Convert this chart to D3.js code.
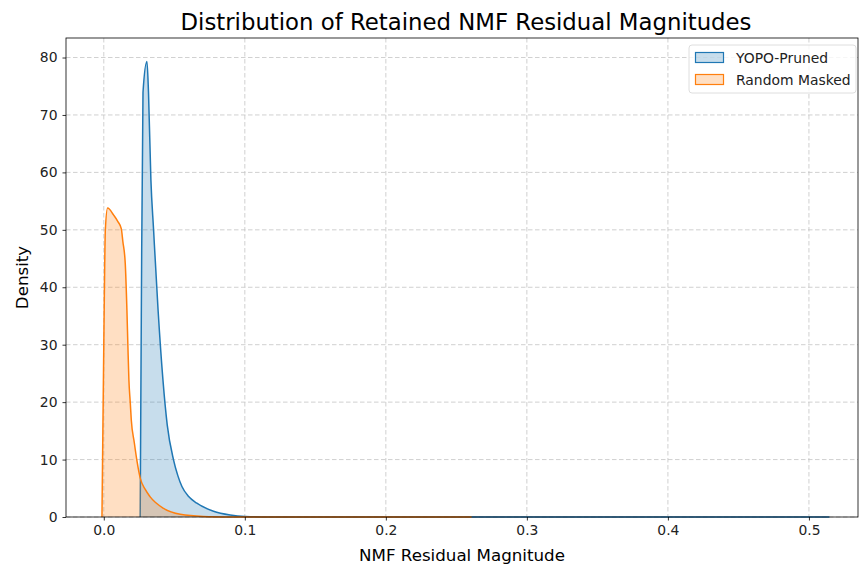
<!DOCTYPE html>
<html>
<head>
<meta charset="utf-8">
<script src="https://cdn.jsdelivr.net/npm/d3@7"></script>
<style>
  body { margin: 0; background: #ffffff; }
  svg { display: block; font-family: "DejaVu Sans", sans-serif; }
</style>
</head>
<body>
<svg id="chart"></svg>
<script>
const width = 859
const height = 567

// Data (KDE curves)
const seriesNames = ["YOPO-Pruned", "Random Masked"]
const seriesColors = ["#1f77b4", "#ff7f0e"]

const yopoX = [0.0258, 0.0266, 0.0278, 0.0306, 0.0317, 0.0334, 0.0353, 0.0385, 0.0419, 0.0450,
               0.0494, 0.0525, 0.0554, 0.0600, 0.0660, 0.0778, 0.0896, 0.1002, 0.1180, 0.1500,
               0.2500, 0.3500, 0.4500, 0.5145]
const yopoY = [0, 35, 73.9, 79.3, 73.9, 58.7, 50, 36, 24, 16,
               10, 7.2, 5.3, 3.6, 2.4, 1.0, 0.35, 0.1, 0.02, 0,
               0, 0, 0, 0]

const randomX = [-0.0013, 0.0000, 0.0011, 0.0027, 0.0069, 0.0101, 0.0124, 0.0135, 0.0152, 0.0164,
                 0.0171, 0.0178, 0.0188, 0.0195, 0.0216, 0.0237, 0.0258, 0.0294, 0.0329, 0.0424,
                 0.0542, 0.0705, 0.0896, 0.1200, 0.1800, 0.2608]
const randomY = [0, 30, 50, 53.8, 52.6, 51.4, 50.2, 48, 44.2, 36,
                 29.7, 23.9, 19.8, 16.9, 13, 9.5, 6.8, 4.8, 3.5, 1.5,
                 0.47, 0.1, 0.02, 0, 0, 0]

const xTicks = [0.0, 0.1, 0.2, 0.3, 0.4, 0.5]
const yTicks = [0, 10, 20, 30, 40, 50, 60, 70, 80]

const margin = { top: 38, right: 1, bottom: 50, left: 66 }
const plotW = width - margin.left - margin.right
const plotH = height - margin.top - margin.bottom

const svg = d3.select("#chart")
    .attr("width", width)
    .attr("height", height)

const x = d3.scaleLinear().domain([-0.0268, 0.5348]).range([0, plotW])
const y = d3.scaleLinear().domain([0, 83.4]).range([plotH, 0])

const g = svg.append("g").attr("transform", `translate(${margin.left},${margin.top})`)

// Grid
const gridColor = "#c4c4c4"
g.append("g").selectAll("line")
    .data(xTicks)
    .enter()
    .append("line")
    .attr("x1", d => x(d)).attr("x2", d => x(d))
    .attr("y1", 0).attr("y2", plotH)
    .attr("stroke", gridColor)
    .attr("stroke-width", 0.8)
    .attr("stroke-dasharray", "4.5,2.5")

g.append("g").selectAll("line")
    .data(yTicks)
    .enter()
    .append("line")
    .attr("x1", 0).attr("x2", plotW)
    .attr("y1", d => y(d)).attr("y2", d => y(d))
    .attr("stroke", gridColor)
    .attr("stroke-width", 0.8)
    .attr("stroke-dasharray", "4.5,2.5")

// Curves
const series = [
    { name: seriesNames[0], color: seriesColors[0], xs: yopoX, ys: yopoY },
    { name: seriesNames[1], color: seriesColors[1], xs: randomX, ys: randomY }
]

const area = d3.area()
    .x(d => x(d[0]))
    .y0(y(0))
    .y1(d => y(d[1]))
    .curve(d3.curveMonotoneX)

const line = d3.line()
    .x(d => x(d[0]))
    .y(d => y(d[1]))
    .curve(d3.curveMonotoneX)

series.forEach(s => {
    const pts = s.xs.map((v, i) => [v, s.ys[i]])
    g.append("path")
        .datum(pts)
        .attr("d", area)
        .attr("fill", s.color)
        .attr("fill-opacity", 0.25)
        .attr("stroke", "none")
    g.append("path")
        .datum(pts)
        .attr("d", line)
        .attr("fill", "none")
        .attr("stroke", s.color)
        .attr("stroke-width", 1.5)
})

// Axes
const xAxis = g.append("g")
    .attr("transform", `translate(0,${plotH})`)
    .call(d3.axisBottom(x).tickValues(xTicks).tickFormat(d3.format(".1f")).tickSize(3.5).tickPadding(5))
const yAxis = g.append("g")
    .call(d3.axisLeft(y).tickValues(yTicks).tickFormat(d3.format("d")).tickSize(3.5).tickPadding(5))

;[xAxis, yAxis].forEach(a => {
    a.select(".domain").remove()
    a.selectAll("line").attr("stroke", "#000").attr("stroke-width", 0.8)
    a.selectAll("text")
        .attr("font-family", "DejaVu Sans, sans-serif")
        .attr("font-size", 13.9)
        .attr("fill", "#222")
})

// Frame
g.append("rect")
    .attr("x", 0).attr("y", 0)
    .attr("width", plotW).attr("height", plotH)
    .attr("fill", "none")
    .attr("stroke", "#000")
    .attr("stroke-width", 0.8)

// Title and labels
svg.append("text")
    .attr("x", 466)
    .attr("y", 30)
    .attr("text-anchor", "middle")
    .attr("font-size", 22.8)
    .attr("fill", "#000")
    .text("Distribution of Retained NMF Residual Magnitudes")

svg.append("text")
    .attr("x", margin.left + plotW / 2)
    .attr("y", 561)
    .attr("text-anchor", "middle")
    .attr("font-size", 16.7)
    .attr("fill", "#000")
    .text("NMF Residual Magnitude")

svg.append("text")
    .attr("transform", `translate(28,${margin.top + plotH / 2}) rotate(-90)`)
    .attr("text-anchor", "middle")
    .attr("font-size", 16.7)
    .attr("fill", "#000")
    .text("Density")

// Legend
const legend = svg.append("g").attr("transform", "translate(689,45)")
legend.append("rect")
    .attr("width", 167).attr("height", 48)
    .attr("rx", 3)
    .attr("fill", "#fff")
    .attr("fill-opacity", 0.8)
    .attr("stroke", "#d6d6d6")
    .attr("stroke-width", 0.8)

series.forEach((s, i) => {
    const row = legend.append("g").attr("transform", `translate(0,${12.5 + i * 22})`)
    row.append("rect")
        .attr("x", 6.5).attr("y", -5)
        .attr("width", 28).attr("height", 10)
        .attr("fill", s.color)
        .attr("fill-opacity", 0.25)
        .attr("stroke", s.color)
        .attr("stroke-width", 1.2)
    row.append("text")
        .attr("x", 47)
        .attr("y", 5)
        .attr("font-size", 13.9)
        .attr("fill", "#222")
        .text(s.name)
})
</script>
</body>
</html>
